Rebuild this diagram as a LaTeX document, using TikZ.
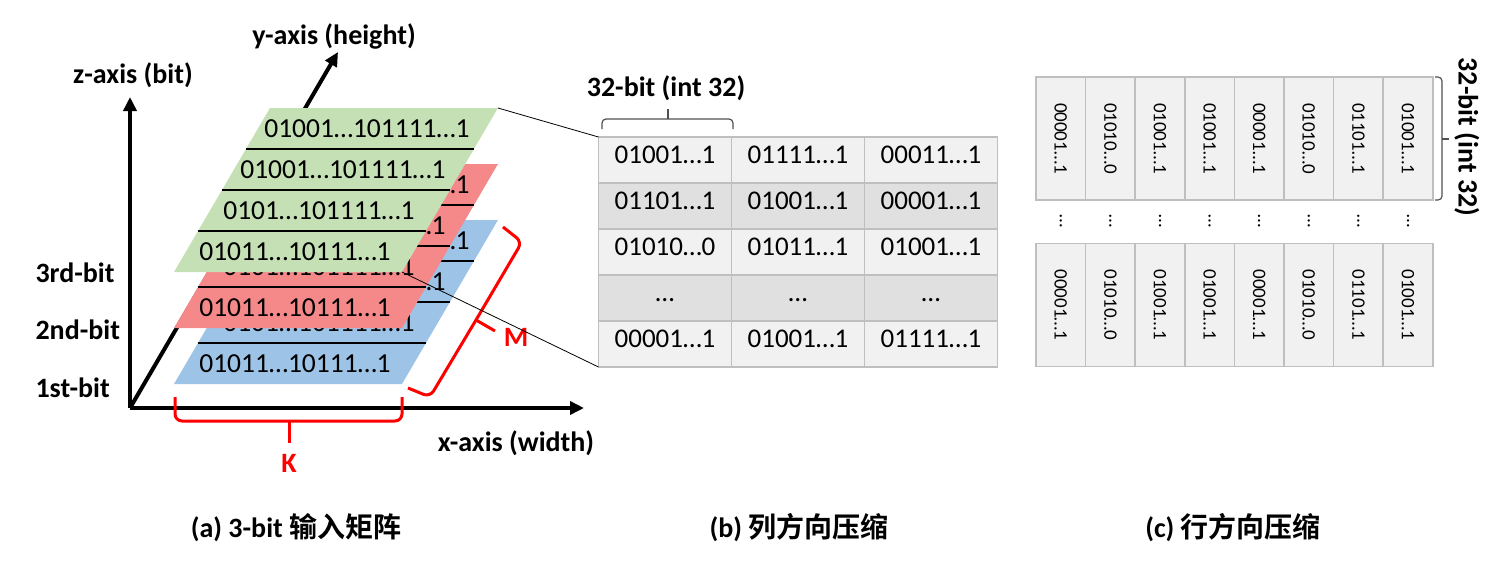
\documentclass[tikz,border=0pt]{standalone}
\usepackage{fontspec}
\setmainfont{Carlito}
\newfontfamily\cjk{Noto Sans CJK SC}[BoldFont={Noto Sans CJK SC Bold}]
\usepackage{tikz}
\usetikzlibrary{arrows.meta, positioning}

\definecolor{planegreen}{RGB}{197,224,180}
\definecolor{planered}{RGB}{245,137,137}
\definecolor{planeblue}{RGB}{157,195,230}
\definecolor{celllight}{RGB}{241,241,241}
\definecolor{celldark}{RGB}{224,224,224}
\definecolor{cellline}{RGB}{191,191,191}
\definecolor{bracegray}{RGB}{80,80,80}

\begin{document}
\begin{tikzpicture}[
  x=1pt, y=-1pt,
  axis/.style={line width=4pt, -{Triangle[length=14pt, width=13pt]}},
  axislabel/.style={font=\fontsize{28}{32}\selectfont\bfseries},
  rowtext/.style={font=\fontsize{27.5}{30}\selectfont, inner sep=0pt},
  rowline/.style={line width=1.3pt},
  cell/.style={draw=cellline, line width=1.5pt, minimum width=133pt, minimum height=46pt,
               inner sep=0pt, outer sep=0pt, text height=0.64em, text depth=0pt,
               font=\fontsize{27}{30}\selectfont},
  vcell/.style={draw=cellline, fill=celllight, line width=1.5pt, minimum width=49.6pt,
                minimum height=123pt, inner sep=0pt, outer sep=0pt},
  vtext/.style={rotate=-90, inner sep=0pt, font=\fontsize{19}{24}\selectfont},
  redbrace/.style={draw=red, line width=3pt, rounded corners=7pt},
  graybrace/.style={draw=bracegray, line width=1.2pt, rounded corners=4pt},
  caption/.style={font=\fontsize{28}{32}\selectfont\bfseries},
]
\useasboundingbox (0,0) rectangle (1512,563);

  % axes
  \coordinate (O) at (130,408);
  \coordinate (zend) at (130,97);
  \coordinate (xend) at (584,408);
  \coordinate (yend) at (338,52);
  \draw[axis] (O) -- (zend);
  \draw[axis] (O) -- (xend);
  \draw[axis] (O) -- (yend);
  \node[axislabel] (zlab) at (133,75) {z-axis (bit)};
  \node[axislabel] (ylab) at (334,36) {y-axis (height)};
  \node[axislabel] (xlab) at (516,443) {x-axis (width)};
  \node[axislabel, anchor=west] (bit3) at (32,273) {3rd-bit};
  \node[axislabel, anchor=west] (bit2) at (32,330) {2nd-bit};
  \node[axislabel, anchor=west] (bit1) at (32,388) {1st-bit};

  % bit planes, bottom to top
  \foreach \name/\col/\by in {blue/planeblue/384, red/planered/328, green/planegreen/272}{
    \begin{scope}[shift={(174,\by)}, xslant=0.585]
      \fill[\col] (0,0) rectangle (228,-164);
      \foreach \k in {1,2,3} \draw[rowline] (0,-41*\k) -- (228,-41*\k);
      \foreach \txt [count=\i] in {01001…101111…1, 01001…101111…1, 0101…101111…1, 01011…10111…1}
        \node[rowtext] (\name-row\i) at (109,-164+41*\i-20.5) {\txt};
      \coordinate (\name-tr) at (228,-164);
      \coordinate (\name-br) at (228,0);
    \end{scope}
  }

  % K and M
  \draw[redbrace] (175,397) -- (175,421) -- (402,421) -- (402,397);
  \draw[redbrace] (289,421) -- (289,443);
  \draw[redbrace] (503,227) -- (522,242) -- (476,320) -- (430,397) -- (408,388);
  \draw[redbrace] (476,320) -- (495,331);
  \node[axislabel, text=red] (klab) at (289,463) {K};
  \node[axislabel, text=red] (mlab) at (516,337) {M};

  % column-wise compressed table
  \foreach \r/\shade/\a/\b/\c in {1/celllight/01001…1/01111…1/00011…1,
      2/celldark/01101…1/01001…1/00001…1, 3/celllight/01010…0/01011…1/01001…1,
      4/celldark/…/…/…, 5/celllight/00001…1/01001…1/01111…1}{
    \node[cell, fill=\shade] (c\r1) at (665,137+46*\r-23) {\a};
    \node[cell, fill=\shade, right=0pt of c\r1] (c\r2) {\b};
    \node[cell, fill=\shade, right=0pt of c\r2] (c\r3) {\c};
  }
  \draw[line width=0.8pt] (green-tr) -- (c11.north west);
  \draw[line width=0.8pt] (green-br) -- (c51.south west);
  \draw[graybrace] (602,129) -- (602,119) -- (733,119) -- (733,129);
  \draw[graybrace] (668,119) -- (668,109);
  \node[axislabel] (wordlab) at (666,88) {32-bit (int 32)};

  % row-wise compressed columns
  \foreach \txt [count=\i] in {00001…1, 01010…0, 01001…1, 01001…1, 00001…1, 01010…0, 01101…1, 01001…1}{
    \node[vcell] (u\i) at ({1036+49.6*\i-24.8},138.5) {};
    \node[vcell] (l\i) at ({1036+49.6*\i-24.8},305) {};
    \node[vtext] (ut\i) at (u\i) {\txt};
    \node[vtext] (lt\i) at (l\i) {\txt};
    \node[vtext] (d\i) at ({1036+49.6*\i-24.8},221) {…};
  }
  \draw[graybrace] (1435,77) -- (1442,77) -- (1442,200) -- (1435,200);
  \draw[graybrace] (1442,139) -- (1449,139);
  \node[axislabel, rotate=-90] (vwordlab) at (1467,137) {32-bit (int 32)};

  % captions
  \node[caption] (capa) at (296,528) {(a) 3-bit {\cjk 输入矩阵}};
  \node[caption] (capb) at (799,528) {(b) {\cjk 列方向压缩}};
  \node[caption] (capc) at (1233,528) {(c) {\cjk 行方向压缩}};
\end{tikzpicture}
\end{document}
